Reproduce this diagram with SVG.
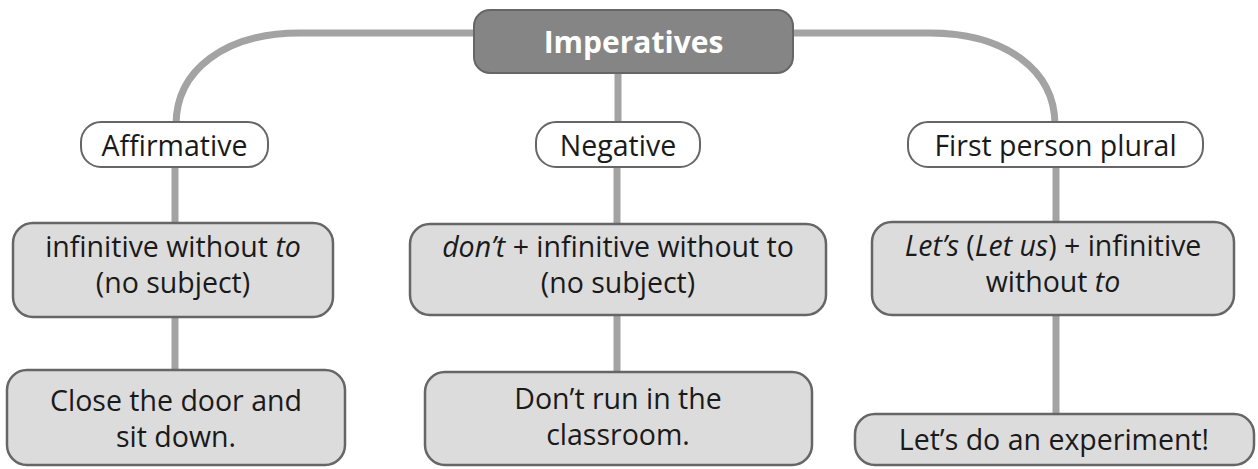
<svg xmlns="http://www.w3.org/2000/svg" width="1258" height="469" viewBox="0 0 1258 469">
<style>
.conn{fill:none;stroke:#a3a3a3;stroke-width:7}
.lbl{fill:#ffffff;stroke:#666666;stroke-width:2}
.box{fill:#dcdcdc;stroke:#666666;stroke-width:2.5}
.t{font-family:"Open Sans","Noto Sans",sans-serif;font-size:28.5px;fill:#1a1a1a;text-anchor:middle}
.title{font-family:"Open Sans","Noto Sans",sans-serif;font-size:30px;font-weight:bold;fill:#ffffff;text-anchor:middle}
</style>
<g id="connectors">
<path class="conn" d="M474 33 H300 C225 33 176 70 176 125"/>
<path class="conn" d="M793 33 H930 C1005 33 1055 70 1055 125"/>
<path class="conn" d="M618 73 V122"/>
<path class="conn" d="M175 167 V223 M175 317 V370"/>
<path class="conn" d="M617 167 V224 M617 315 V372"/>
<path class="conn" d="M1056 167 V222 M1056 315 V414"/>
</g>
<g id="imperatives">
<rect x="474" y="10" width="319" height="63" rx="16" fill="#858585" stroke="#666666" stroke-width="2"/>
<text class="title" x="633.5" y="53">Imperatives</text>
</g>
<g id="affirmative">
<rect class="lbl" x="81" y="122" width="187" height="45" rx="20"/>
<text class="t" x="174.5" y="156">Affirmative</text>
</g>
<g id="negative">
<rect class="lbl" x="536" y="122" width="164" height="45" rx="20"/>
<text class="t" x="618" y="156">Negative</text>
</g>
<g id="first-person-plural">
<rect class="lbl" x="908" y="122" width="295" height="45" rx="20"/>
<text class="t" x="1055.5" y="156">First person plural</text>
</g>
<g id="aff-rule">
<rect class="box" x="13" y="223" width="320" height="94" rx="20"/>
<text class="t" x="173" y="257">infinitive without <tspan font-style="italic">to</tspan></text>
<text class="t" x="173" y="293">(no subject)</text>
</g>
<g id="neg-rule">
<rect class="box" x="410" y="224" width="416" height="91" rx="20"/>
<text class="t" x="618" y="257"><tspan font-style="italic">don’t</tspan> + infinitive without to</text>
<text class="t" x="618" y="293">(no subject)</text>
</g>
<g id="fpp-rule">
<rect class="box" x="872" y="222" width="362" height="93" rx="20"/>
<text class="t" x="1053" y="256"><tspan font-style="italic">Let’s</tspan> (<tspan font-style="italic">Let us</tspan>) + infinitive</text>
<text class="t" x="1053" y="292">without <tspan font-style="italic">to</tspan></text>
</g>
<g id="aff-example">
<rect class="box" x="7" y="370" width="338" height="95" rx="20"/>
<text class="t" x="176" y="411">Close the door and</text>
<text class="t" x="176" y="447">sit down.</text>
</g>
<g id="neg-example">
<rect class="box" x="425" y="372" width="387" height="93" rx="20"/>
<text class="t" x="618" y="409">Don’t run in the</text>
<text class="t" x="618" y="445">classroom.</text>
</g>
<g id="fpp-example">
<rect class="box" x="855" y="414" width="399" height="51" rx="20"/>
<text class="t" x="1054" y="450">Let’s do an experiment!</text>
</g>
</svg>
